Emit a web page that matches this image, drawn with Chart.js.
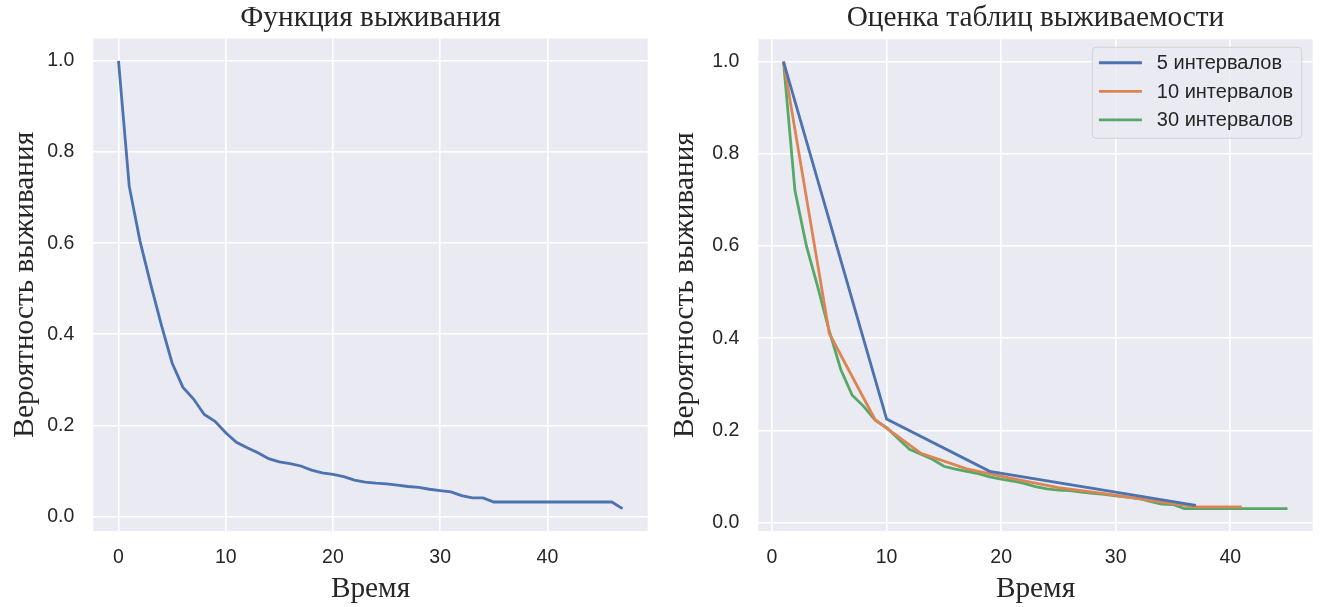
<!DOCTYPE html>
<html>
<head>
<meta charset="utf-8">
<script src="https://cdn.jsdelivr.net/npm/chart.js@4"></script>
<style>
  html, body { margin: 0; padding: 0; background: #ffffff; }
  #wrap { position: relative; width: 1322px; height: 607px; }
  canvas { position: absolute; top: 0; }
</style>
</head>
<body>
<div id="wrap">
  <canvas id="km" width="660" height="607" style="left:0px"></canvas>
  <canvas id="lt" width="662" height="607" style="left:660px"></canvas>
</div>
<script>
// Kaplan–Meier style survival curve (time 0..47)
const timeKM = [0,1,2,3,4,5,6,7,8,9,10,11,12,13,14,15,16,17,18,19,20,21,22,23,
                24,25,26,27,28,29,30,31,32,33,34,35,36,37,38,39,40,41,42,43,44,45,46,47];
const survivalKM = [1.0,0.725,0.605,0.51,0.42,0.337,0.284,0.258,0.224,0.209,0.184,0.163,
                    0.151,0.140,0.127,0.120,0.116,0.111,0.102,0.096,0.0925,0.0875,0.080,0.0757,
                    0.0735,0.072,0.069,0.066,0.064,0.060,0.057,0.054,0.046,0.041,0.041,0.032,
                    0.032,0.032,0.032,0.032,0.032,0.032,0.032,0.032,0.032,0.032,0.032,0.0175];

// Life-table estimates for three interval counts
const time5 = [1,10,19,28,37];
const surv5 = [1.0,0.2245,0.111,0.074,0.0373];

const time10 = [1,5,9,13,17,21,25,29,33,37,41];
const surv10 = [1.0,0.41,0.223,0.150,0.1165,0.095,0.0755,0.0626,0.048,0.034,0.034];

const time30 = [1,2,3,4,5,6,7,8,9,10,11,12,13,14,15,16,17,18,19,20,21,22,23,
                24,25,26,27,28,29,30,31,32,33,34,35,36,37,38,39,40,41,42,43,44,45];
const surv30 = [1.0,0.72,0.60,0.51,0.415,0.332,0.276,0.252,0.222,0.206,0.182,0.159,
                0.148,0.137,0.122,0.116,0.111,0.106,0.099,0.094,0.090,0.085,0.078,0.073,
                0.070,0.069,0.066,0.063,0.061,0.058,0.055,0.052,0.046,0.040,0.039,0.030,
                0.030,0.030,0.030,0.030,0.030,0.030,0.030,0.030,0.030];

const seriesLabels = ['5 интервалов', '10 интервалов', '30 интервалов'];
const palette = ['#4C72B0', '#DD8452', '#55A868'];

const TEXT = '#262626';
const SANS = '"Liberation Sans", Arial, sans-serif';
const SERIF = '"Liberation Serif", "Times New Roman", serif';
const SERIF_SIZE = 29.3;

function pts(xs, ys) { return xs.map((x, i) => ({ x: x, y: ys[i] })); }

// axis limits with a 5% margin on each side of the data range
function padded(values) {
  const lo = Math.min(...values), hi = Math.max(...values), m = (hi - lo) * 0.05;
  return [lo - m, hi + m];
}

const plotBg = {
  id: 'plotBg',
  beforeDraw(c) {
    const { ctx, chartArea: a } = c;
    ctx.save();
    ctx.fillStyle = '#EAEAF2';
    ctx.fillRect(a.left, a.top, a.width, a.height);
    ctx.restore();
  }
};

// legend framed inside the top-right corner of the plot
const cornerLegend = {
  id: 'cornerLegend',
  afterDraw(c) {
    const { ctx, chartArea: a } = c;
    const sets = c.data.datasets;
    ctx.save();
    ctx.font = '20px ' + SANS;
    const tw = Math.max(...sets.map(d => ctx.measureText(d.label).width));
    const w = 64 + tw + 9, h = 91;
    const bx = a.right - 11 - w, by = a.top + 8;
    ctx.beginPath();
    ctx.roundRect(bx, by, w, h, 4);
    ctx.fillStyle = 'rgba(234,234,242,0.8)';
    ctx.fill();
    ctx.lineWidth = 1;
    ctx.strokeStyle = 'rgba(204,204,204,0.8)';
    ctx.stroke();
    sets.forEach((d, i) => {
      const y = by + 15.5 + i * 28.6;
      ctx.beginPath();
      ctx.moveTo(bx + 6.6, y);
      ctx.lineTo(bx + 49.6, y);
      ctx.lineWidth = 2.8;
      ctx.strokeStyle = d.borderColor;
      ctx.stroke();
      ctx.fillStyle = TEXT;
      ctx.textBaseline = 'middle';
      ctx.textAlign = 'left';
      ctx.fillText(d.label, bx + 64.5, y + 1);
    });
    ctx.restore();
  }
};

function makeScales(xr, yr, yWidth) {
  return {
    x: {
      type: 'linear', min: xr[0], max: xr[1],
      ticks: { stepSize: 10, includeBounds: false, padding: 14.5, color: TEXT,
               maxRotation: 0, autoSkip: false, font: { family: SANS, size: 19.5 } },
      grid: { color: '#ffffff', lineWidth: 1.6, drawTicks: false },
      border: { display: false },
      title: { display: true, text: 'Время', color: TEXT,
               font: { family: SERIF, size: SERIF_SIZE }, padding: { top: 0, bottom: 0.5 } },
      afterFit(s) { s.height = 76; }
    },
    y: {
      type: 'linear', min: yr[0], max: yr[1],
      ticks: { stepSize: 0.2, includeBounds: false, padding: 19, color: TEXT,
               font: { family: SANS, size: 19.5 }, callback: v => v.toFixed(1) },
      grid: { color: '#ffffff', lineWidth: 1.6, drawTicks: false },
      border: { display: false },
      title: { display: true, text: 'Вероятность выживания', color: TEXT,
               font: { family: SERIF, size: SERIF_SIZE }, padding: { top: 7.5, bottom: 0 } },
      afterFit(s) { s.width = yWidth; }
    }
  };
}

// title centred over the plotting area rather than the whole canvas
function titleOpts(text, padTop, padBottom) {
  return { display: true, fullSize: false, text: text, color: TEXT,
           font: { family: SERIF, size: SERIF_SIZE, weight: 'normal' },
           padding: { top: padTop, bottom: padBottom } };
}

const lineStyle = { borderWidth: 2.8, pointRadius: 0, tension: 0, fill: false };

new Chart(document.getElementById('km'), {
  type: 'line',
  data: {
    datasets: [Object.assign({ label: 'KM', data: pts(timeKM, survivalKM), borderColor: palette[0] }, lineStyle)]
  },
  options: {
    responsive: false, animation: false, devicePixelRatio: 1,
    layout: { padding: { left: 0, right: 12.3, top: 0, bottom: 0 } },
    plugins: { legend: { display: false }, tooltip: { enabled: false },
               title: titleOpts('Функция выживания', 1, 2.3) },
    scales: makeScales(padded(timeKM), padded(survivalKM), 93.3)
  },
  plugins: [plotBg]
});

const allTimes = time5.concat(time10, time30);
const allSurv = surv5.concat(surv10, surv30);

new Chart(document.getElementById('lt'), {
  type: 'line',
  data: {
    datasets: [
      Object.assign({ label: seriesLabels[0], data: pts(time5, surv5), borderColor: palette[0] }, lineStyle),
      Object.assign({ label: seriesLabels[1], data: pts(time10, surv10), borderColor: palette[1] }, lineStyle),
      Object.assign({ label: seriesLabels[2], data: pts(time30, surv30), borderColor: palette[2] }, lineStyle)
    ]
  },
  options: {
    responsive: false, animation: false, devicePixelRatio: 1,
    layout: { padding: { left: 0, right: 9.3, top: 0, bottom: 0 } },
    plugins: { legend: { display: false }, tooltip: { enabled: false },
               title: titleOpts('Оценка таблиц выживаемости', 1, 3.1) },
    scales: makeScales(padded(allTimes), padded(allSurv), 98.3)
  },
  plugins: [plotBg, cornerLegend]
});
</script>
</body>
</html>
